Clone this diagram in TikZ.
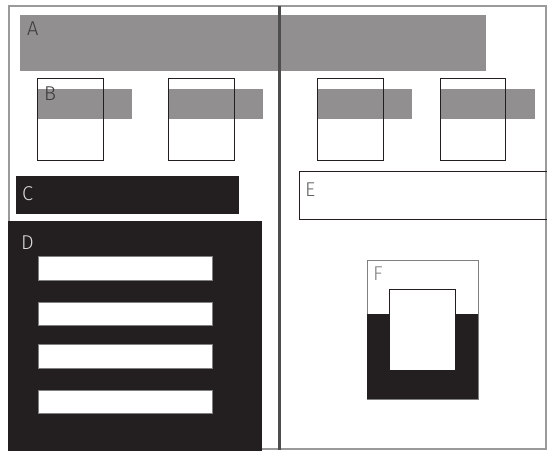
\documentclass[tikz,border=0pt]{standalone}
\usepackage{fontspec}
\setmainfont{Fira Sans}[UprightFont=* Light]
\definecolor{bandgray}{HTML}{918F90}
\definecolor{inkblack}{HTML}{231F20}
\definecolor{framegray}{HTML}{9A9A9A}
\definecolor{divgray}{HTML}{4D4D4D}
\definecolor{labelgray}{HTML}{3C3C3C}
\begin{document}
\begin{tikzpicture}[x=1pt,y=-1pt,
  lbl/.style={anchor=base west,inner sep=0pt,font=\fontsize{20}{20}\selectfont},
  band/.style={fill=bandgray,draw=none},
  frameb/.style={draw=inkblack,line width=0.9pt},
  blk/.style={fill=inkblack,draw=none},
  bar/.style={fill=white,draw=gray,line width=0.5pt}]
\useasboundingbox (0,0) rectangle (547,454);
% outer frame
\draw[framegray,line width=2pt] (8.5,449) -- (8.5,6.5) -- (546,6.5) -- (546,449) -- cycle;
% A
\fill[band] (20,15) rectangle (486,71);
\node[lbl,text=labelgray] (A) at (27,36) {A};
% B boxes
\fill[band] (38,89) rectangle (132,119);
\fill[band] (168,89) rectangle (263,119);
\fill[band] (317,89) rectangle (412,119);
\fill[band] (440,89) rectangle (535,119);
\draw[frameb] (37,78) rectangle (103,160);
\draw[frameb] (168,78) rectangle (234,160);
\draw[frameb] (317,78) rectangle (383,160);
\draw[frameb] (440,78) rectangle (505,160);
\node[lbl,text=labelgray] (B) at (44,101) {B};
% C
\fill[blk] (16,176) rectangle (239,214);
\node[lbl,text=white!85!black] (C) at (22,201) {C};
% D
\fill[blk] (8,221) rectangle (262,451);
\node[lbl,text=white!85!black] (D) at (21,250) {D};
\draw[bar] (38,256) rectangle (212,280);
\draw[bar] (38,302) rectangle (212,325);
\draw[bar] (38,344) rectangle (212,368);
\draw[bar] (38,390) rectangle (212,413);
% E
\draw[frameb] (299,171) rectangle (550,219);
\node[lbl,text=labelgray!80] (E) at (305,197) {E};
% F
\draw[draw=gray,line width=0.8pt,fill=white] (367,260) rectangle (478,399);
\fill[blk] (367,314) rectangle (478,399);
\draw[draw=inkblack,line width=0.8pt,fill=white] (389,289) rectangle (455,370);
\node[lbl,text=gray] (F) at (373,281) {F};
% divider
\draw[divgray,line width=3pt] (279,6) -- (279,450);
\end{tikzpicture}
\end{document}
